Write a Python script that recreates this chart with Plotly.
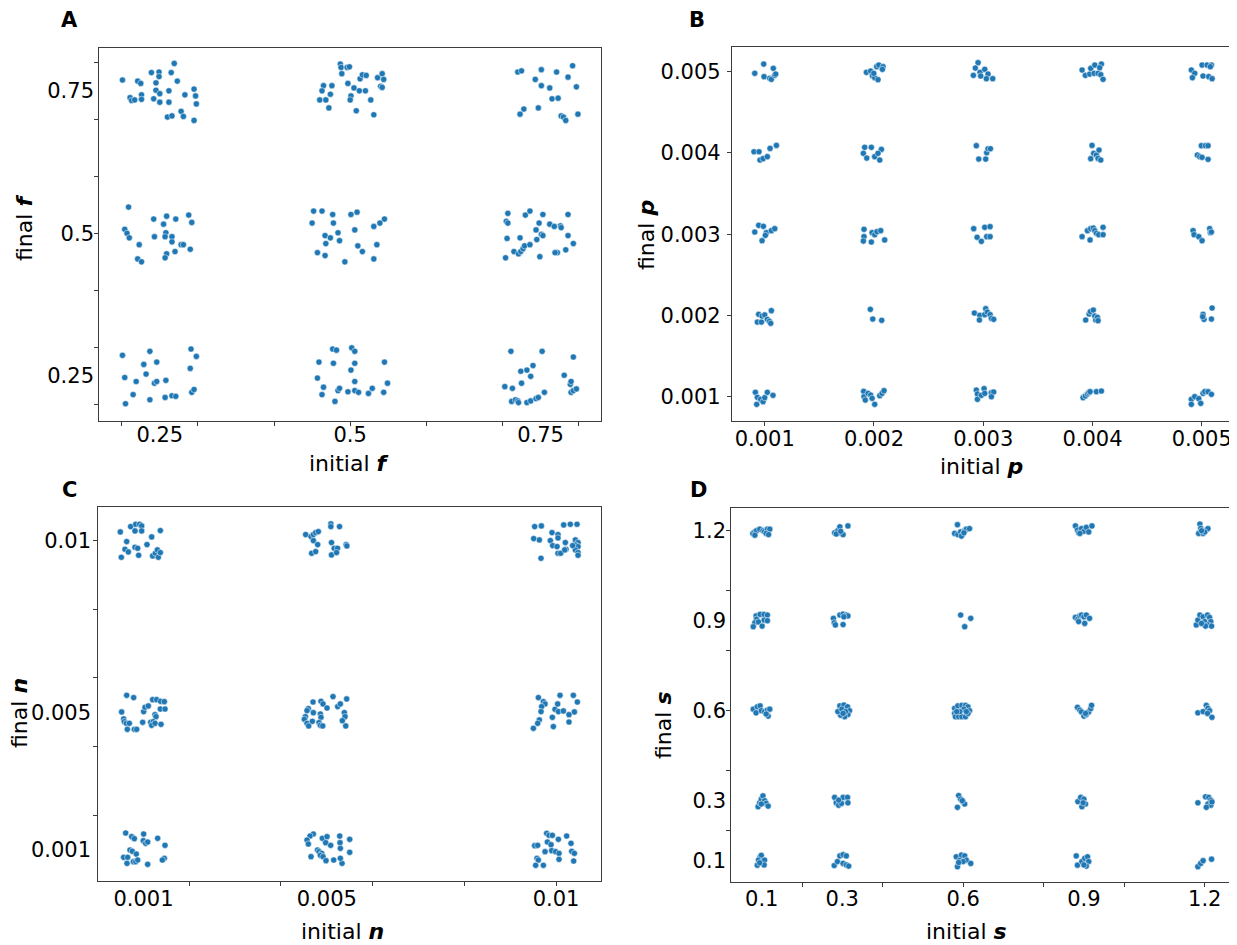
import plotly.graph_objects as go

# ---------------- Panel A : initial f vs final f ----------------
a_initial_f = [
    # initial 0.25, final 0.75
    .201, .221, .225, .239, .249, .249, .269, .265, .273, .245, .245, .250, .262, .295, .283,
    .297, .298, .226, .226, .211, .213, .217, .242, .250, .262, .260, .266, .278, .281, .295,
    # initial 0.5, final 0.75
    .487, .488, .489, .496, .499, .465, .476, .463, .474, .460, .468, .472, .497, .505, .501,
    .500, .512, .520, .513, .516, .521, .536, .542, .544, .540, .542, .527, .508, .531,
    # initial 0.75, final 0.75
    .720, .725, .751, .771, .792, .743, .751, .762, .786, .797, .765, .773, .728, .723, .747,
    .777, .780, .783, .799,
    # initial 0.25, final 0.5
    .209, .204, .207, .210, .223, .221, .226, .242, .259, .271, .288, .292, .255, .243, .258,
    .257, .266, .266, .270, .278, .281, .290, .259, .257,
    # initial 0.5, final 0.5
    .452, .463, .477, .501, .509, .450, .478, .467, .474, .484, .486, .468, .457, .467, .493,
    .506, .510, .516, .531, .539, .545, .535, .531,
    # initial 0.75, final 0.5
    .707, .705, .707, .706, .704, .715, .723, .721, .724, .727, .729, .736, .730, .736, .753,
    .748, .744, .745, .751, .753, .749, .762, .768, .776, .777, .786, .786, .793, .783, .772, .769,
    # initial 0.25, final 0.25
    .201, .204, .205, .215, .219, .229, .232, .237, .237, .246, .243, .246, .257, .258, .266,
    .271, .291, .298, .290, .292, .295,
    # initial 0.5, final 0.25
    .459, .457, .465, .463, .477, .482, .478, .480, .484, .486, .497, .502, .506, .506, .501,
    .506, .506, .511, .524, .529, .544, .545, .549,
    # initial 0.75, final 0.25
    .711, .703, .713, .712, .717, .720, .721, .724, .725, .732, .732, .737, .740, .737, .744,
    .747, .752, .755, .781, .789, .790, .790, .793, .797, .793,
]
a_final_f = [
    .769, .767, .763, .782, .783, .775, .798, .782, .767, .764, .751, .745, .750, .753, .743,
    .741, .727, .743, .735, .738, .733, .734, .736, .730, .730, .704, .706, .714, .705, .698,
    .797, .791, .780, .791, .792, .759, .759, .750, .744, .734, .734, .720, .763, .755, .741,
    .734, .750, .750, .771, .778, .777, .773, .780, .770, .758, .756, .734, .715, .708,
    .783, .785, .787, .783, .794, .770, .759, .755, .774, .757, .736, .737, .718, .709, .720,
    .706, .704, .698, .709,
    .546, .507, .500, .492, .480, .455, .450, .525, .530, .525, .532, .519, .516, .494, .501,
    .494, .494, .485, .468, .480, .480, .472, .464, .457,
    .539, .539, .533, .533, .537, .518, .518, .496, .492, .501, .487, .482, .466, .461, .450,
    .506, .478, .468, .512, .518, .525, .480, .455,
    .535, .521, .518, .491, .457, .468, .492, .464, .468, .473, .478, .480, .532, .539, .533,
    .518, .506, .489, .498, .496, .459, .516, .512, .513, .510, .533, .496, .482, .471, .466, .466,
    .286, .247, .201, .217, .240, .270, .253, .293, .208, .274, .237, .240, .212, .242, .215,
    .214, .297, .284, .263, .221, .226,
    .274, .246, .230, .217, .297, .295, .272, .205, .224, .228, .222, .299, .293, .272, .260,
    .240, .224, .221, .219, .228, .221, .274, .237,
    .293, .231, .228, .205, .208, .206, .203, .258, .237, .260, .203, .249, .268, .206, .210,
    .212, .293, .221, .251, .235, .240, .221, .224, .227, .283,
]
a_tick_labels = [0.25, 0.5, 0.75]
a_tick_marks = [0.2, 0.3, 0.4, 0.5, 0.6, 0.7, 0.8]

# ---------------- Panel B : initial p vs final p (values in units of 1e-3) ----------------
b_initial_p_milli = [
    .909, .991, .994, 1.079, 1.046, 1.061, 1.092, 1.101,
    1.931, 1.970, 1.986, 2.007, 2.037, 2.025, 2.044, 2.083, 2.077, 1.998,
    2.953, 2.928, 2.910, 2.971, 3.014, 2.977, 3.044, 3.029, 3.087,
    3.905, 3.935, 3.975, 3.984, 4.021, 4.015, 4.051, 4.076, 4.082, 4.066, 4.097,
    4.905, 4.936, 4.915, 5.003, 5.049, 5.089, 5.079, 5.012, 5.064, 5.095,
    .902, .948, .957, .985, 1.024, 1.049, 1.107,
    1.915, 1.976, 1.903, 1.934, 2.007, 2.053, 2.068, 2.037,
    2.937, 2.959, 3.023, 3.032, 3.044, 3.066,
    3.996, 4.011, 3.984, 4.036, 4.060, 4.051, 4.076,
    4.997, 5.034, 5.058, 4.960, 4.982, 5.003, 5.058,
    .909, .945, .988, 1.015, 1.006, .976, 1.061, 1.092,
    1.909, 1.909, 1.903, 1.976, 1.983, 2.007, 2.028, 2.062, 2.098,
    2.913, 3.014, 3.063, 2.944, 2.983, 3.032, 3.063,
    3.905, 3.954, 3.984, 4.008, 4.021, 4.036, 4.057, 4.097, 4.097, 3.978,
    4.921, 4.930, 4.973, 5.003, 5.073, 5.079, 5.089,
    .945, .933, .970, .976, 1.000, 1.024, 1.043, 1.055, 1.061,
    1.967, 1.989, 2.071,
    2.919, 2.968, 3.014, 3.023, 3.038, 2.965, 3.063, 3.075, 3.096,
    3.938, 3.969, 3.981, 4.008, 4.021, 4.030, 4.045, 4.051,
    5.095, 5.012, 5.021, 5.089, 5.009,
    .915, .933, .927, .963, .985, 1.000, 1.024, 1.076,
    1.906, 1.909, 1.921, 1.946, 1.970, 1.983, 2.007, 2.053, 2.074, 2.092,
    2.937, 2.947, 2.947, 2.983, 3.008, 3.014, 3.075, 3.096, 3.075,
    3.914, 3.935, 3.954, 3.966, 3.978, 4.036, 4.082,
    4.905, 4.905, 4.936, 4.973, 4.991, 5.012, 5.028, 5.058, 5.089,
]
b_final_p_milli = [
    4.980, 5.094, 4.939, 5.041, 4.918, 4.906, 4.955, 4.971,
    4.992, 5.008, 4.951, 4.926, 4.902, 5.062, 5.082, 5.062, 5.029, 4.980,
    5.111, 5.045, 4.955, 4.992, 5.029, 4.947, 4.971, 4.914, 4.914,
    5.021, 4.955, 4.971, 5.041, 5.082, 4.980, 4.980, 4.963, 5.094, 5.049, 4.906,
    5.021, 4.980, 4.926, 5.082, 5.082, 5.082, 5.062, 4.947, 4.939, 4.914,
    4.015, 4.015, 3.913, 3.929, 3.954, 4.056, 4.093,
    4.069, 4.069, 3.995, 3.937, 3.954, 3.913, 4.044, 3.995,
    4.089, 3.925, 3.925, 4.003, 4.052, 4.052,
    4.093, 3.995, 3.929, 3.974, 4.036, 3.933, 3.913,
    4.089, 4.089, 4.089, 3.974, 3.954, 3.946, 3.921,
    3.027, 3.109, 3.097, 3.019, 2.986, 2.920, 3.044, 3.068,
    3.060, 2.970, 2.916, 2.904, 3.019, 2.994, 3.031, 3.044, 2.929,
    3.068, 3.085, 3.093, 2.962, 2.912, 2.970, 2.970,
    2.970, 3.044, 3.068, 3.076, 3.044, 3.011, 2.994, 3.085, 2.994, 2.929,
    3.044, 2.994, 2.970, 2.920, 3.068, 3.019, 3.027,
    2.014, 1.919, 1.919, 1.993, 2.006, 1.952, 1.928, 1.903, 2.059,
    2.075, 1.956, 1.940,
    2.030, 2.001, 2.010, 2.083, 2.042, 1.944, 2.010, 1.964, 1.952,
    1.944, 2.018, 2.047, 2.067, 1.993, 1.944, 1.977, 1.936,
    2.092, 2.014, 1.952, 1.956, 1.985,
    1.054, .992, .906, .968, .939, .988, 1.054, 1.017,
    1.066, 1.000, .959, 1.041, 1.021, .980, .906, 1.013, 1.041, 1.074,
    1.082, 1.033, .968, 1.017, 1.099, 1.041, 1.050, 1.058, 1.000,
    .988, 1.009, 1.033, 1.050, 1.062, 1.062, 1.070,
    .968, .906, 1.000, .976, .918, 1.041, 1.062, 1.062, 1.029,
]
b_tick_values = [0.001, 0.002, 0.003, 0.004, 0.005]
b_tick_text = ["0.001", "0.002", "0.003", "0.004", "0.005"]

# ---------------- Panel C : initial n vs final n (values in units of 1e-3) ----------------
c_initial_n_milli = [
    .495, .721, .830, .917, .961, .815, .961, .634, .597, .670, .517, .815, .874, .895, 1.077,
    1.179, 1.368, 1.201, 1.259, 1.303, 1.324, 1.368,
    4.539, 4.655, 4.706, 4.757, 4.815, 4.706, 4.800, 4.669, 4.757, 5.088, 5.088, 5.277, 5.102,
    5.161, 5.233, 5.102, 5.212, 5.422, 5.437,
    9.534, 9.680, 9.513, 9.636, 9.672, 9.912, 10.043, 10.043, 9.876, 9.927, 10.022, 10.043,
    10.102, 10.203, 10.218, 10.167, 10.312, 10.458, 10.189, 10.422, 10.480, 10.422, 10.480,
    10.422, 10.480, 10.480, 10.363,
    .634, .786, .524, .568, .583, .626, .692, .648, .801, .852, .983, 1.004, 1.034, 1.106,
    1.201, 1.288, 1.375, 1.455, 1.368, 1.470, 1.252, 1.273, 1.157, 1.215, 1.179, 1.252, 1.383,
    4.597, 4.568, 4.532, 4.510, 4.568, 4.604, 4.699, 4.706, 4.684, 4.873, 4.917, 5.004, 4.859,
    4.873, 4.830, 4.859, 4.910, 5.135, 5.237, 5.295, 5.433, 5.382, 5.397, 5.339, 5.412,
    9.615, 9.724, 9.760, 9.687, 9.673, 9.636, 9.600, 9.506, 9.920, 9.942, 9.978, 10.036,
    10.087, 10.051, 10.160, 10.283, 10.378, 10.465, 10.400, 10.283,
    .612, .743, .801, 1.004, .997, 1.048, 1.092, 1.310, 1.470, .706, .757, .844, .568, .655,
    .641, .779, .830, .874, 1.092, 1.455, 1.412,
    4.706, 4.634, 4.568, 4.597, 4.903, 5.004, 4.975, 5.084, 5.281, 5.288, 5.295, 5.499, 4.798,
    4.830, 4.888, 4.859, 4.655, 4.917, 4.982, 5.150, 5.332, 5.295, 5.499,
    9.796, 9.847, 9.920, 10.051, 10.232, 10.327, 9.811, 9.891, 9.760, 9.905, 9.992, 10.065,
    9.534, 9.600, 9.585, 9.615, 9.556, 9.724, 10.065, 10.342, 10.400, 10.385,
]
c_final_n_milli = [
    10.254, 10.409, 10.477, 10.477, 10.429, 10.283, 10.283, 9.972, 9.748, 9.671, 9.515, 9.807,
    9.777, 9.573, 9.884, 10.108, 10.293, 9.554, 9.632, 9.729, 9.515, 9.651,
    10.176, 10.118, 10.176, 10.234, 10.263, 10.001, 9.884, 9.632, 9.680, 10.487, 10.409,
    10.409, 9.943, 9.777, 9.777, 9.583, 9.651, 9.884, 9.846,
    10.409, 10.429, 10.059, 10.020, 9.486, 10.234, 10.176, 10.079, 10.001, 9.855, 9.826, 9.632,
    9.632, 9.943, 9.748, 10.458, 10.477, 10.477, 9.729, 10.020, 9.943, 9.875, 9.826, 9.729,
    9.651, 9.573, 9.855,
    5.492, 5.424, 5.006, 4.802, 4.724, 4.675, 4.675, 4.500, 4.500, 4.500, 4.705, 5.016, 5.142,
    5.181, 5.365, 5.365, 5.317, 5.307, 5.093, 5.093, 4.928, 4.870, 4.705, 4.724, 4.617, 4.675,
    4.646,
    5.103, 5.045, 4.870, 4.792, 4.675, 4.598, 5.297, 4.986, 4.734, 5.317, 5.239, 5.122, 4.947,
    4.850, 4.695, 4.617, 4.598, 5.453, 5.162, 5.239, 5.385, 4.986, 4.870, 4.753, 4.598,
    5.424, 5.307, 5.239, 5.162, 5.016, 4.773, 4.675, 4.530, 4.850, 4.579, 5.084, 5.239, 5.492,
    5.016, 5.035, 4.928, 5.492, 5.297, 5.006, 4.714,
    1.478, 1.371, 1.313, 1.449, 1.255, 1.177, 1.216, 1.323, 1.118, .983, .944, .866, .769, .769,
    .594, .643, .643, .691, .565, .740, .691,
    1.449, 1.391, 1.274, 1.157, 1.323, 1.371, 1.196, 1.118, 1.391, 1.196, 1.031, 1.294, .983,
    .934, .885, .827, .788, .788, .672, .691, .594, .740, .915,
    1.468, 1.410, 1.410, 1.294, 1.391, 1.177, 1.216, 1.138, .934, .963, .934, .885, 1.109,
    1.118, .740, .691, .536, .536, .711, .944, .885, .662,
]
c_tick_labels = [0.001, 0.005, 0.01]
c_tick_text = ["0.001", "0.005", "0.01"]
c_tick_marks = [0.002, 0.004, 0.006, 0.008, 0.010]

# ---------------- Panel D : initial s vs final s ----------------
d_initial_s = [
    .078, .083, .087, .095, .103, .107, .114, .120, .111, .117, .083,
    .281, .289, .294, .298, .302, .314, .285, .296,
    .586, .579, .587, .594, .600, .596, .604, .608, .616, .602,
    .879, .884, .887, .894, .900, .906, .912, .920, .890,
    1.188, 1.190, 1.185, 1.196, 1.204, 1.208, 1.200, 1.192,
    .086, .096, .106, .114, .087, .083, .079, .092, .101, .106, .114,
    .278, .280, .283, .294, .302, .310, .314, .304, .302,
    .594, .619, .604,
    .879, .885, .890, .894, .900, .906, .914, .902, .887,
    1.179, 1.183, 1.188, 1.196, 1.200, 1.207, 1.212, 1.215, 1.208, 1.217, 1.202, 1.192,
    .079, .089, .096, .086, .099, .107, .114, .120, .116, .111,
    .294, .304, .313, .318, .314, .306, .296, .289, .299, .308, .302,
    .579, .579, .581, .589, .597, .606, .587, .597, .606, .612, .616, .612, .602, .592, .584, .608,
    .884, .890, .894, .900, .906, .912, .917, .919, .904,
    1.183, 1.196, 1.204, 1.208, 1.212, 1.207, 1.218,
    .091, .095, .099, .103, .107, .111, .116, .099,
    .281, .285, .291, .298, .302, .313, .314, .291,
    .589, .594, .600, .604, .586, .598,
    .885, .892, .900, .904, .895, .898,
    1.183, 1.202, 1.210, 1.215, 1.208, 1.215, 1.204, 1.218,
    .096, .099, .092, .089, .102, .107, .106, .095,
    .280, .288, .294, .302, .310, .302, .310, .316,
    .583, .592, .596, .604, .608, .600, .619, .586, .589,
    .881, .884, .895, .902, .909, .912, .906, .900,
    1.183, 1.190, 1.196, 1.217,
]
d_final_s = [
    1.191, 1.196, 1.200, 1.205, 1.200, 1.197, 1.205, 1.205, 1.191, 1.187, 1.185,
    1.193, 1.200, 1.213, 1.191, 1.187, 1.216, 1.189, 1.198,
    1.220, 1.191, 1.187, 1.196, 1.189, 1.182, 1.200, 1.205, 1.207, 1.193,
    1.216, 1.202, 1.193, 1.207, 1.198, 1.211, 1.196, 1.216, 1.191,
    1.222, 1.208, 1.191, 1.191, 1.202, 1.207, 1.196, 1.200,
    .916, .921, .921, .919, .905, .893, .880, .896, .882, .902, .900,
    .908, .893, .886, .919, .922, .919, .916, .913, .887,
    .919, .908, .880,
    .911, .905, .916, .919, .913, .919, .908, .891, .897,
    .886, .902, .919, .913, .897, .919, .911, .897, .886, .882, .882, .891,
    .605, .613, .616, .593, .600, .597, .602, .605, .582, .589,
    .616, .619, .613, .600, .587, .580, .585, .597, .605, .597, .591,
    .608, .591, .580, .580, .580, .580, .616, .618, .618, .613, .600, .591, .605, .597, .597, .597,
    .611, .602, .596, .582, .587, .596, .607, .618, .591,
    .593, .597, .618, .608, .600, .591, .578,
    .280, .293, .305, .316, .300, .291, .282, .289,
    .311, .293, .285, .291, .311, .311, .293, .302,
    .317, .305, .296, .289, .278, .300,
    .297, .311, .305, .289, .280, .293,
    .293, .313, .311, .302, .289, .285, .278, .296,
    .113, .118, .102, .085, .097, .102, .086, .093,
    .084, .097, .116, .120, .116, .091, .086, .082,
    .113, .102, .119, .116, .102, .097, .091, .080, .094,
    .116, .085, .097, .108, .113, .097, .082, .086,
    .080, .091, .100, .105,
]
d_tick_labels = [0.1, 0.3, 0.6, 0.9, 1.2]
d_tick_text = ["0.1", "0.3", "0.6", "0.9", "1.2"]
d_tick_marks = [0.2, 0.4, 0.6, 0.8, 1.0, 1.2]

# ---------------- figure ----------------
PAGE_W, PAGE_H = 1237, 945
PAGE_MARGIN = 8                      # default body margin of the html page
W, H = PAGE_W - PAGE_MARGIN, PAGE_H - PAGE_MARGIN
FONT = "DejaVu Sans"
LINE = "#3c3c3c"
BLUE = "#1f77b4"

b_x = [v * 1e-3 for v in b_initial_p_milli]
b_y = [v * 1e-3 for v in b_final_p_milli]
c_x = [v * 1e-3 for v in c_initial_n_milli]
c_y = [v * 1e-3 for v in c_final_n_milli]

marker = dict(color=BLUE, size=6.2, line=dict(color="white", width=0.5))

fig = go.Figure()
for xs, ys, xa, ya in [(a_initial_f, a_final_f, "x", "y"),
                       (b_x, b_y, "x2", "y2"),
                       (c_x, c_y, "x3", "y3"),
                       (d_initial_s, d_final_s, "x4", "y4")]:
    fig.add_trace(go.Scatter(x=xs, y=ys, mode="markers", marker=marker,
                             xaxis=xa, yaxis=ya, showlegend=False))
# empty traces that carry the label-only overlay axes
for xa, ya in [("x5", "y5"), ("x6", "y6"), ("x7", "y7")]:
    fig.add_trace(go.Scatter(x=[], y=[], xaxis=xa, yaxis=ya, showlegend=False,
                             hoverinfo="skip"))


def px_x(p):
    return (p - PAGE_MARGIN) / W


def px_y(p):
    return 1 - (p - PAGE_MARGIN) / H


TICKFONT = dict(family=FONT, size=21, color="black")


def frame_axis(domain, rng, anchor, tickvals, ticktext=None, labels=False, standoff=0):
    d = dict(domain=domain, range=rng, anchor=anchor, showline=True, linecolor=LINE,
             linewidth=1.3, mirror=True, showgrid=False, zeroline=False,
             tickmode="array", tickvals=tickvals, ticks="outside", ticklen=4,
             tickwidth=1, tickcolor=LINE, showticklabels=labels, tickfont=TICKFONT)
    if ticktext is not None:
        d["ticktext"] = ticktext
    if labels:
        d["ticklabelstandoff"] = standoff
    return d


def label_axis(over, rng, anchor, tickvals, ticktext, side, standoff):
    return dict(overlaying=over, range=rng, anchor=anchor, side=side, showline=False,
                showgrid=False, zeroline=False, tickmode="array", tickvals=tickvals,
                ticktext=ticktext, ticks="", ticklabelstandoff=standoff,
                tickfont=TICKFONT)


a_xr, a_yr = [0.1702, 0.8293], [0.1707, 0.8251]
b_xr, b_yr = [0.0007007, 0.005268], [0.000701, 0.005304]
c_xr, c_yr = [0.0000083, 0.010981], [0.000079, 0.01098]
d_xr, d_yr = [0.0237, 1.2752], [0.029, 1.2757]

a_text = [str(v) for v in a_tick_labels]

fig.update_layout(
    width=W, height=H, autosize=False,
    margin=dict(l=0, r=0, t=0, b=0),
    paper_bgcolor="white", plot_bgcolor="white",
    font=dict(family=FONT, size=20, color="black"),
    xaxis=frame_axis([px_x(99), px_x(601)], a_xr, "y", a_tick_marks),
    yaxis=frame_axis([px_y(421), px_y(48)], a_yr, "x", a_tick_marks),
    xaxis2=frame_axis([px_x(732), px_x(1231)], b_xr, "y2", b_tick_values, b_tick_text,
                      True, -5),
    yaxis2=frame_axis([px_y(421), px_y(47)], b_yr, "x2", b_tick_values, b_tick_text,
                      True, 2),
    xaxis3=frame_axis([px_x(98), px_x(601)], c_xr, "y3", c_tick_marks),
    yaxis3=frame_axis([px_y(881), px_y(507)], c_yr, "x3", c_tick_marks),
    xaxis4=frame_axis([px_x(731), px_x(1235)], d_xr, "y4", d_tick_marks),
    yaxis4=frame_axis([px_y(882), px_y(508)], d_yr, "x4", d_tick_marks),
    xaxis5=label_axis("x", a_xr, "y5", a_tick_labels, a_text, "bottom", -1),
    yaxis5=label_axis("y", a_yr, "x5", a_tick_labels, a_text, "left", 4),
    xaxis6=label_axis("x3", c_xr, "y6", c_tick_labels, c_tick_text, "bottom", 3),
    yaxis6=label_axis("y3", c_yr, "x6", c_tick_labels, c_tick_text, "left", 6),
    xaxis7=label_axis("x4", d_xr, "y7", d_tick_labels, d_tick_text, "bottom", 2),
    yaxis7=label_axis("y4", d_yr, "x7", d_tick_labels, d_tick_text, "left", 4),
)


def ann(text, x, y, angle=0, size=22):
    fig.add_annotation(text=text, x=px_x(x), y=px_y(y), xref="paper", yref="paper",
                       showarrow=False, xanchor="center", yanchor="middle",
                       textangle=angle, font=dict(family=FONT, size=size, color="black"))


ann("<b>A</b>", 69, 20, size=21)
ann("<b>B</b>", 697, 20, size=21)
ann("<b>C</b>", 69, 490, size=21)
ann("<b>D</b>", 698, 490, size=21)
ann("initial <b><i>f</i></b>", 349, 463)
ann("final <b><i>f</i></b>", 25, 228, -90)
ann("initial <b><i>p</i></b>", 981, 466)
ann("final <b><i>p</i></b>", 646, 235, -90)
ann("initial <b><i>n</i></b>", 342, 931)
ann("final <b><i>n</i></b>", 19, 713, -90)
ann("initial <b><i>s</i></b>", 966, 931)
ann("final <b><i>s</i></b>", 663, 725, -90)

fig.write_html("out.html")
